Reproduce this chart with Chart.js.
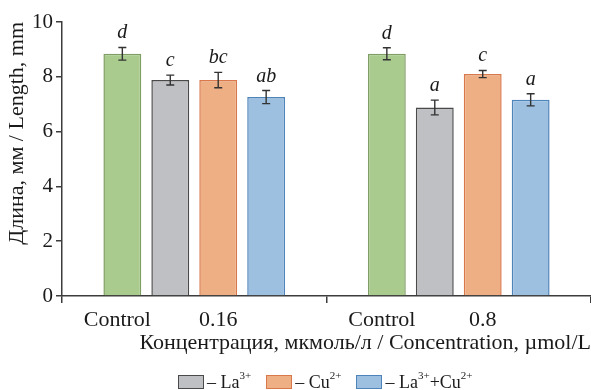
<!DOCTYPE html>
<html>
<head>
<meta charset="utf-8">
<script src="https://cdn.jsdelivr.net/npm/chart.js@4.4.1/dist/chart.umd.min.js"></script>
<style>
  html, body { margin: 0; padding: 0; background: #fff; }
  #wrap { position: relative; width: 591px; height: 390px; }
  #legend { position: absolute; left: 178px; top: 374px; display: flex; align-items: center;
    font-family: "Liberation Serif", "Times New Roman", serif; font-size: 18px; color: #1a1a1a; line-height: 16px; }
  .item { display: flex; align-items: center; margin-right: 15px; }
  .box { width: 24px; height: 12px; border: 1.5px solid; margin-right: 3px; }
  sup { font-size: 11px; position: relative; top: -7px; vertical-align: baseline; line-height: 0; }
</style>
</head>
<body>
<div id="wrap">
  <canvas id="c" width="591" height="390"></canvas>
  <div id="legend"></div>
</div>
<script>
// ---- data ----
const groups = ['0.16', '0.8'];
const controlLabel = 'Control';
const seriesNames = ['Control', 'La<sup>3+</sup>', 'Cu<sup>2+</sup>', 'La<sup>3+</sup>+Cu<sup>2+</sup>'];
const controlVals = [8.84, 8.84];
const laVals      = [7.88, 6.88];
const cuVals      = [7.88, 8.10];
const laCuVals    = [7.26, 7.16];
const controlErr = [0.23, 0.22];
const laErr      = [0.18, 0.27];
const cuErr      = [0.28, 0.13];
const laCuErr    = [0.24, 0.22];
const controlLetters = ['d', 'd'];
const laLetters      = ['c', 'a'];
const cuLetters      = ['bc', 'c'];
const laCuLetters    = ['ab', 'a'];
const yTicks = [0, 2, 4, 6, 8, 10];
const yTitle = 'Длина, мм / Length, mm';
const xTitle = 'Концентрация, мкмоль/л / Concentration, µmol/L';

const fills   = ['#a9cb8e', '#bfc0c4', '#eeaf84', '#9dbfe0'];
const borders = ['#7f9e63', '#4a4a4a', '#d9784a', '#4f84bb'];
const SERIF = '"Liberation Serif", "Times New Roman", serif';
const INK = '#1a1a1a';
const AXIS = '#3c3c3c';

const vals = [controlVals, laVals, cuVals, laCuVals];
const errs = [controlErr, laErr, cuErr, laCuErr];
const letters = [controlLetters, laLetters, cuLetters, laCuLetters];

const datasets = vals.map((v, i) => ({
  label: seriesNames[i],
  data: v,
  backgroundColor: fills[i],
  borderColor: borders[i],
  borderWidth: 1.5,
  borderSkipped: 'bottom',
  categoryPercentage: 0.725,
  barPercentage: 0.79,
  errs: errs[i],
  letters: letters[i]
}));

const extras = {
  id: 'extras',
  afterDatasetsDraw(chart) {
    const ctx = chart.ctx;
    const y = chart.scales.y;
    ctx.save();
    chart.data.datasets.forEach((ds, di) => {
      const meta = chart.getDatasetMeta(di);
      meta.data.forEach((bar, i) => {
        const v = ds.data[i], e = ds.errs[i];
        const yt = y.getPixelForValue(v + e), yb = y.getPixelForValue(v - e);
        const x = bar.x;
        ctx.strokeStyle = '#333';
        ctx.lineWidth = 1.4;
        ctx.beginPath();
        ctx.moveTo(x, yt); ctx.lineTo(x, yb);
        ctx.moveTo(x - 4, yt); ctx.lineTo(x + 4, yt);
        ctx.moveTo(x - 4, yb); ctx.lineTo(x + 4, yb);
        ctx.stroke();
        ctx.fillStyle = INK;
        ctx.font = 'italic 20px ' + SERIF;
        ctx.textAlign = 'center';
        ctx.textBaseline = 'alphabetic';
        ctx.fillText(ds.letters[i], x, yt - 9);
      });
    });
    // x category labels under control bar and treatment bar
    const m0 = chart.getDatasetMeta(0), m2 = chart.getDatasetMeta(2);
    ctx.font = '22px ' + SERIF;
    ctx.fillStyle = INK;
    ctx.textAlign = 'center';
    ctx.textBaseline = 'middle';
    const ly = chart.chartArea.bottom + 24;
    groups.forEach((g, i) => {
      ctx.fillText(controlLabel, m0.data[i].x - 5, ly);
      ctx.fillText(g, m2.data[i].x, ly);
    });
    ctx.restore();
  }
};

new Chart(document.getElementById('c'), {
  type: 'bar',
  data: { labels: groups, datasets },
  options: {
    responsive: false,
    animation: false,
    layout: { padding: { top: 22, right: 0, bottom: 34, left: 0 } },
    plugins: { legend: { display: false }, tooltip: { enabled: false } },
    scales: {
      x: {
        ticks: { display: false },
        grid: { display: true, offset: true, drawOnChartArea: false, drawTicks: true, tickLength: 7, color: AXIS, lineWidth: 1.5 },
        border: { display: true, color: AXIS, width: 1.5 },
        title: { display: true, text: xTitle, align: 'end', color: INK, font: { family: SERIF, size: 22 }, padding: { top: 0, bottom: 0 } },
        afterFit(s) { s.height = 60; }
      },
      y: {
        min: 0, max: 10,
        afterBuildTicks(s) { s.ticks = yTicks.map(v => ({ value: v })); },
        ticks: { color: INK, font: { family: SERIF, size: 21 }, padding: 3 },
        grid: { display: true, drawOnChartArea: false, drawTicks: true, tickLength: 6, color: AXIS, lineWidth: 1.5 },
        border: { display: true, color: AXIS, width: 1.5 },
        title: { display: true, text: yTitle, align: 'end', color: INK, font: { family: SERIF, size: 22 }, padding: { top: 4, bottom: 0 } },
        afterFit(s) { s.width = 62; }
      }
    }
  },
  plugins: [extras]
});

// HTML legend (treatment series only, as in the reference)
const lg = document.getElementById('legend');
[1, 2, 3].forEach((i, k) => {
  const it = document.createElement('div');
  it.className = 'item';
  if (k === 2) it.style.marginRight = '0';
  it.innerHTML = '<span class="box" style="background:' + fills[i] + ';border-color:' + borders[i] + '"></span>– ' + seriesNames[i];
  lg.appendChild(it);
});
</script>
</body>
</html>
